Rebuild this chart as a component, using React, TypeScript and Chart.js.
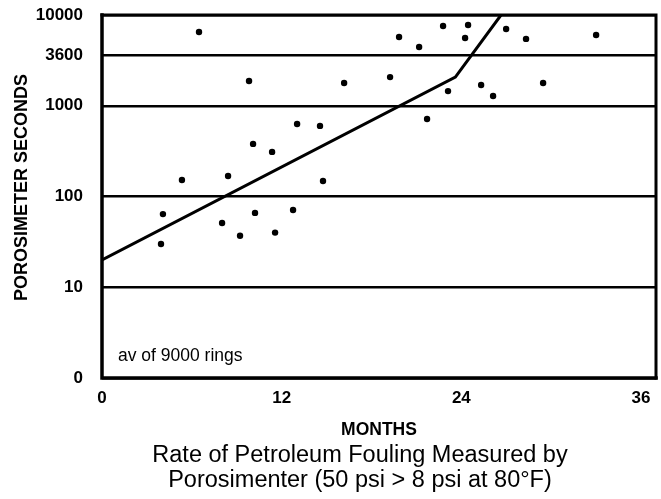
import { useEffect, useRef } from "react";
import { Chart, registerables } from "chart.js";

Chart.register(...registerables);

const months = [4.07, 3.94, 5.34, 6.48, 8.02, 8.42, 9.22, 9.82, 10.09, 10.22, 11.36, 11.56, 12.76, 13.03, 14.56, 14.76, 16.17, 19.24, 19.84, 21.18, 21.71, 22.78, 23.11, 24.25, 24.45, 25.32, 26.12, 26.99, 28.32, 29.46, 33.0];
const seconds = [64, 30, 152, 6500, 51, 168, 37, 1875, 380, 66, 310, 40, 71, 630, 600, 148, 1780, 2070, 5720, 4440, 715, 7560, 1450, 5580, 7760, 1690, 1280, 7000, 5450, 1780, 6030];
const fitMonths = [0, 23.6, 26.65];
const fitSeconds = [20, 2070, 10000];
const xTicks = [0, 12, 24, 36];
const yTicks = [1, 10, 100, 1000, 3600, 10000];
const yTickLabels = ["0", "10", "100", "1000", "3600", "10000"];
const titleLines = ["Rate of Petroleum Fouling Measured by", "Porosimenter (50 psi > 8 psi at 80°F)"];
const xTitle = "MONTHS";
const yTitle = "POROSIMETER SECONDS";
const note = "av of 9000 rings";

const FONT = "'Liberation Sans', Arial, Helvetica, sans-serif";

export default function App() {
  const ref = useRef<HTMLCanvasElement>(null);
  useEffect(() => {
    if (!ref.current) return;
    const frame = {
      id: "frame",
      afterDraw(chart: any) {
        const { ctx, chartArea } = chart;
        const { left, right, top, bottom } = chartArea;
        ctx.save();
        ctx.strokeStyle = "#000";
        ctx.lineCap = "square";
        ctx.lineWidth = 3;
        ctx.beginPath();
        ctx.moveTo(left, top);
        ctx.lineTo(right, top);
        ctx.lineTo(right, bottom);
        ctx.stroke();
        ctx.lineWidth = 3.5;
        ctx.beginPath();
        ctx.moveTo(left, top);
        ctx.lineTo(left, bottom);
        ctx.lineTo(right, bottom);
        ctx.stroke();
        ctx.fillStyle = "#000";
        ctx.textBaseline = "middle";
        // annotation inside the plot
        ctx.font = `17.5px ${FONT}`;
        ctx.textAlign = "left";
        ctx.fillText(note, left + 16, bottom - 22);
        // chart title below the axis
        ctx.font = `23.5px ${FONT}`;
        ctx.textAlign = "center";
        ctx.fillText(titleLines[0], 360, bottom + 78);
        ctx.fillText(titleLines[1], 360, bottom + 103);
        // y axis title
        ctx.save();
        ctx.translate(22, (top + bottom) / 2 - 9);
        ctx.rotate(-Math.PI / 2);
        ctx.font = `bold 18px ${FONT}`;
        ctx.fillText(yTitle, 0, 0);
        ctx.restore();
        ctx.restore();
      },
    };
    const chart = new Chart(ref.current, {
      type: "scatter",
      data: {
        datasets: [
          {
            type: "line",
            data: fitMonths.map((m, i) => ({ x: m, y: fitSeconds[i] })),
            borderColor: "#000",
            borderWidth: 3,
            pointRadius: 0,
            fill: false,
            tension: 0,
          } as any,
          {
            data: months.map((m, i) => ({ x: m, y: seconds[i] })),
            backgroundColor: "#000",
            borderColor: "#000",
            pointRadius: 3.2,
            borderWidth: 0,
          },
        ],
      },
      options: {
        animation: false,
        responsive: false,
        layout: { padding: { top: 15, right: 5, left: 0, bottom: 0 } },
        plugins: {
          legend: { display: false },
          tooltip: { enabled: false },
          title: { display: false },
        },
        scales: {
          x: {
            type: "linear",
            min: 0,
            max: 37,
            afterBuildTicks: (s: any) => {
              s.ticks = xTicks.map((v) => ({ value: v }));
            },
            afterFit: (s: any) => {
              s.height = 121;
              s.paddingLeft = 0;
              s.paddingRight = 0;
            },
            ticks: {
              color: "#000",
              font: { family: FONT, size: 17, weight: "bold" },
              padding: 10,
              maxRotation: 0,
              autoSkip: false,
            },
            grid: { display: false, drawTicks: false },
            border: { display: false },
            title: {
              display: true,
              text: xTitle,
              color: "#000",
              font: { family: FONT, size: 17.5, weight: "bold" },
              padding: { top: 0, bottom: 58 },
            },
          },
          y: {
            type: "logarithmic",
            min: 1,
            max: 10000,
            afterBuildTicks: (s: any) => {
              s.ticks = yTicks.map((v) => ({ value: v }));
            },
            afterFit: (s: any) => {
              s.width = 102;
              s.paddingTop = 0;
              s.paddingBottom = 0;
            },
            ticks: {
              color: "#000",
              font: { family: FONT, size: 17, weight: "bold" },
              padding: 19,
              autoSkip: false,
              callback: (v: any) => {
                const i = yTicks.indexOf(Number(v));
                return i >= 0 ? yTickLabels[i] : "";
              },
            },
            grid: { color: "#000", lineWidth: 2.5, drawTicks: false },
            border: { display: false },
            title: { display: false },
          },
        },
      },
      plugins: [frame],
    });
    return () => chart.destroy();
  }, []);
  return (
    <div style={{ position: "fixed", left: 0, top: 0, width: 661, height: 499, background: "#fff" }}>
      <canvas ref={ref} width={661} height={499} style={{ display: "block" }} />
    </div>
  );
}
